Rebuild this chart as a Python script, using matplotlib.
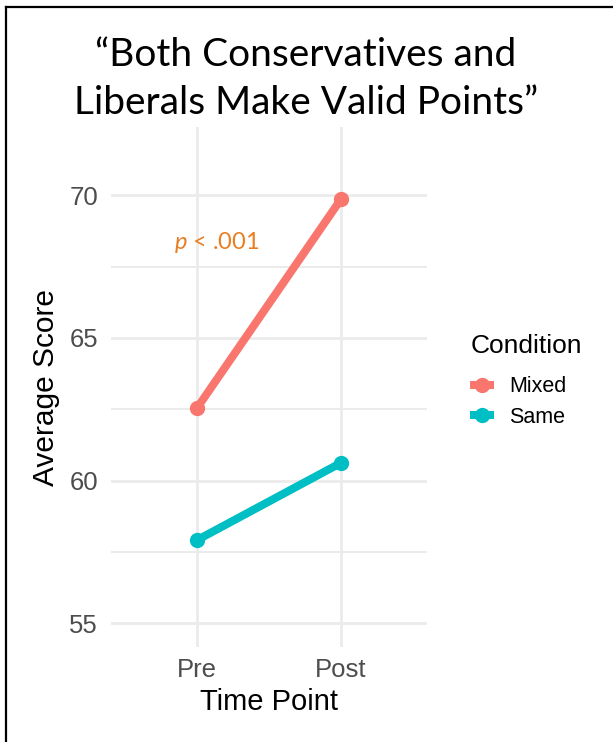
import matplotlib
matplotlib.use("Agg")
import matplotlib.pyplot as plt
from matplotlib.lines import Line2D

time_points = ["Pre", "Post"]
conditions = ["Mixed", "Same"]
mixed_scores = [62.54, 69.87]
same_scores = [57.91, 60.62]
colors = {"Mixed": "#F8766D", "Same": "#00BFC4"}
y_ticks = [55, 60, 65, 70]
y_minor = [57.5, 62.5, 67.5]
title_text = "\u201cBoth Conservatives and\nLiberals Make Valid Points\u201d"
annot_y = 68.35

plt.rcParams["mathtext.fontset"] = "custom"
plt.rcParams["mathtext.it"] = "Lato:italic"
plt.rcParams["mathtext.rm"] = "Lato"

W, H = 613, 742
fig = plt.figure(figsize=(W / 100, H / 100), dpi=100)
fig.patch.set_facecolor("white")

ax = fig.add_axes([110.6 / W, 1 - 647 / H, (427.4 - 110.6) / W, (647 - 127) / H])
ax.set_facecolor("white")
for s in ax.spines.values():
    s.set_visible(False)

x = list(range(1, len(time_points) + 1))
ax.set_xlim(0.4, 2.6)
ax.set_ylim(54.16, 72.4)

grid_c = "#EBEBEB"
for yv in y_ticks:
    ax.axhline(yv, color=grid_c, lw=2.0, zorder=0)
for yv in y_minor:
    ax.axhline(yv, color=grid_c, lw=1.4, zorder=0)
for xv in x:
    ax.axvline(xv, color=grid_c, lw=2.0, zorder=0)

series = {"Mixed": mixed_scores, "Same": same_scores}
for c in conditions:
    ax.plot(x, series[c], color=colors[c], lw=5.8, marker="o", ms=10,
            solid_capstyle="butt", zorder=3)

ax.set_xticks(x)
ax.set_xticklabels(time_points)
ax.set_yticks(y_ticks)
ax.tick_params(length=0, labelsize=18.5, labelcolor="#4D4D4D")
for lab in ax.get_xticklabels() + ax.get_yticklabels():
    lab.set_family("Liberation Sans")
ax.tick_params(axis="x", pad=8)
ax.tick_params(axis="y", pad=9)

ax.set_xlabel("Time Point", fontsize=21, family="Liberation Sans", labelpad=4)
ax.set_ylabel("Average Score", fontsize=21.5, family="Liberation Sans", labelpad=7)

ax.text(1.14, annot_y, r"$\mathit{p}$ < .001", fontsize=17, color="#E87D22",
        family="Lato", ha="center", va="center")

fig.text(306 / W, 1 - 79 / H, title_text, fontsize=28, family="Lato",
         ha="center", va="center", linespacing=1.4)

handles = [Line2D([0], [0], color=colors[c], lw=5.8, marker="o", ms=10,
                  solid_capstyle="butt") for c in conditions]
leg = fig.legend(handles, conditions, title="Condition", loc="center left",
                 bbox_to_anchor=(453 / W, 1 - 381 / H), frameon=False,
                 prop={"family": "Liberation Sans", "size": 15.5},
                 handlelength=1.1, handletextpad=0.7, labelspacing=0.45,
                 borderpad=0.3)
leg.get_title().set_fontsize(19)
leg.get_title().set_family("Liberation Sans")
leg._legend_box.align = "left"
leg._legend_box.sep = 13

# figure border (left & top)
fig.add_artist(Line2D([6 / W, 6 / W], [0, 1 - 7 / H], transform=fig.transFigure, color="black", lw=1.6))
fig.add_artist(Line2D([6 / W, 1], [1 - 7 / H, 1 - 7 / H], transform=fig.transFigure, color="black", lw=1.6))

fig.savefig("out.png", dpi=100, facecolor="white")
